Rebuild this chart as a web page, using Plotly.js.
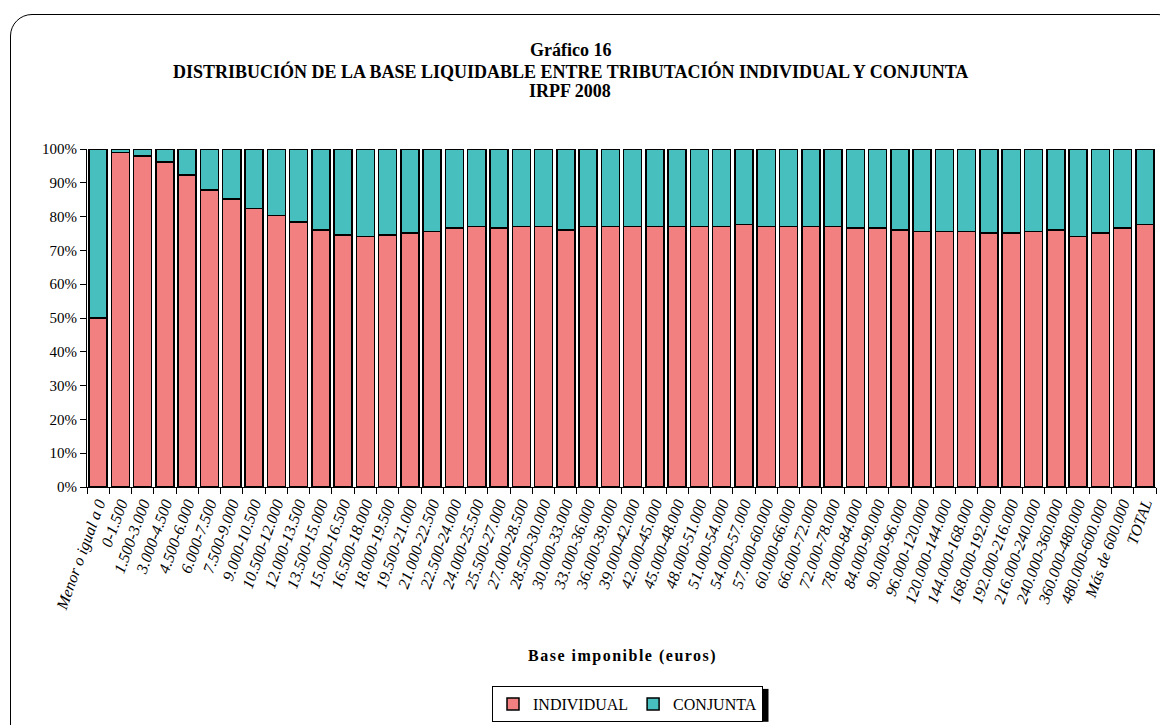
<!DOCTYPE html>
<html>
<head>
<meta charset="utf-8">
<script src="https://cdn.plot.ly/plotly-3.0.1.min.js"></script>
<style>
html,body{margin:0;padding:0;background:#fff;overflow:hidden;}
#chart{width:1160px;height:725px;}
#frame{position:absolute;left:10px;top:14px;width:1170px;height:740px;border:1.5px solid #000;border-radius:22px;pointer-events:none;box-sizing:border-box;}
</style>
</head>
<body>
<div id="chart"></div>
<div id="frame"></div>
<script>
const categories = [
  "Menor o igual a 0","0-1.500","1.500-3.000","3.000-4.500","4.500-6.000","6.000-7.500",
  "7.500-9.000","9.000-10.500","10.500-12.000","12.000-13.500","13.500-15.000","15.000-16.500",
  "16.500-18.000","18.000-19.500","19.500-21.000","21.000-22.500","22.500-24.000","24.000-25.500",
  "25.500-27.000","27.000-28.500","28.500-30.000","30.000-33.000","33.000-36.000","36.000-39.000",
  "39.000-42.000","42.000-45.000","45.000-48.000","48.000-51.000","51.000-54.000","54.000-57.000",
  "57.000-60.000","60.000-66.000","66.000-72.000","72.000-78.000","78.000-84.000","84.000-90.000",
  "90.000-96.000","96.000-120.000","120.000-144.000","144.000-168.000","168.000-192.000",
  "192.000-216.000","216.000-240.000","240.000-360.000","360.000-480.000","480.000-600.000",
  "Más de 600.000","TOTAL"
];
const individual = [
  50.0, 98.9, 97.9, 96.1, 92.3, 87.9, 85.2, 82.4, 80.4, 78.4,
  76.1, 74.6, 74.1, 74.6, 75.1, 75.6, 76.6, 77.1, 76.6, 77.1,
  77.1, 76.1, 77.1, 77.1, 77.1, 77.1, 77.1, 77.1, 77.1, 77.6,
  77.1, 77.1, 77.1, 77.1, 76.6, 76.6, 76.1, 75.6, 75.6, 75.6,
  75.1, 75.1, 75.6, 76.1, 74.1, 75.1, 76.6, 77.6
];
const conjunta = [
  50.0, 1.1, 2.1, 3.9, 7.7, 12.1, 14.8, 17.6, 19.6, 21.6,
  23.9, 25.4, 25.9, 25.4, 24.9, 24.4, 23.4, 22.9, 23.4, 22.9,
  22.9, 23.9, 22.9, 22.9, 22.9, 22.9, 22.9, 22.9, 22.9, 22.4,
  22.9, 22.9, 22.9, 22.9, 23.4, 23.4, 23.9, 24.4, 24.4, 24.4,
  24.9, 24.9, 24.4, 23.9, 25.9, 24.9, 23.4, 22.4
];
const yTicks = [0,10,20,30,40,50,60,70,80,90,100];
const yTickText = yTicks.map(v => v + "%");
const titleLines = ["Gráfico 16",
  "DISTRIBUCIÓN DE LA BASE LIQUIDABLE ENTRE TRIBUTACIÓN INDIVIDUAL Y CONJUNTA",
  "IRPF 2008"];
const xTitle = "Base imponible (euros)";

const serif = "Liberation Serif";
const L = 87, R = 1156, T = 149, B = 488;
const px = x => (x - L) / (R - L);
const py = y => (B - y) / (B - T);

const traces = [
  {type:"bar", name:"INDIVIDUAL", x:categories, y:individual,
   marker:{color:"#F28080", line:{color:"#000", width:1.5}}},
  {type:"bar", name:"CONJUNTA", x:categories, y:conjunta,
   marker:{color:"#47BFBF", line:{color:"#000", width:1.5}}}
];

const titleY = [50, 71, 91];
const annotations = titleLines.map((t, i) => ({
  text:"<b>" + t + "</b>", xref:"paper", yref:"paper",
  x:px(570), y:py(titleY[i]), xanchor:"center", yanchor:"middle", showarrow:false,
  font:{family:serif, size:18, color:"#000"}
}));
annotations.push({
  text:"<b><span style=\"font-family:'Liberation Serif',serif;letter-spacing:1.5px\">" + xTitle + "</span></b>",
  xref:"paper", yref:"paper",
  x:px(622), y:py(657), xanchor:"center", yanchor:"middle", showarrow:false,
  font:{family:serif, size:16, color:"#000"}
});

const layout = {
  width:1160, height:725,
  margin:{l:L, r:1160-R, t:T, b:725-B, pad:0},
  paper_bgcolor:"#fff", plot_bgcolor:"#fff",
  barmode:"stack", bargap:0.19,
  font:{family:serif, color:"#000", size:14},
  xaxis:{type:"category", showline:true, linecolor:"#000", linewidth:1,
         ticks:"outside", ticklen:6, tickcolor:"#000", tickson:"boundaries",
         tickangle:-70, tickfont:{family:serif, size:16, style:"italic", color:"#000"},
         showgrid:false, zeroline:false, automargin:false},
  yaxis:{range:[0,100], tickvals:yTicks, ticktext:yTickText, showline:true,
         linecolor:"#000", linewidth:1, ticks:"outside", ticklen:6, tickcolor:"#000",
         tickfont:{family:serif, size:15, color:"#000"}, showgrid:false, zeroline:false,
         automargin:false, fixedrange:true},
  legend:{orientation:"h", x:px(492), xanchor:"left", y:py(722), yanchor:"bottom",
          bordercolor:"#000", borderwidth:1, bgcolor:"#fff",
          font:{family:serif, size:16, color:"#000"}, traceorder:"normal",
          itemwidth:30, tracegroupgap:0},
  annotations:annotations,
  showlegend:true
};

Plotly.newPlot("chart", traces, layout, {displayModeBar:false, staticPlot:true}).then(gd => {
  const bg = gd.querySelector(".legend .bg");
  if (!bg) return;
  const r = bg.getBoundingClientRect();
  const c = gd.getBoundingClientRect();
  const x0 = r.right - c.left, y0 = r.top - c.top, y1 = r.bottom - c.top;
  Plotly.relayout(gd, {shapes:[
    {type:"rect", xref:"paper", yref:"paper", x0:px(x0), x1:px(x0 + 6),
     y0:py(y0 + 4), y1:py(Math.min(y1 + 2, 724)), fillcolor:"#000", line:{width:0}, layer:"below"}
  ]});
});
</script>
</body>
</html>
